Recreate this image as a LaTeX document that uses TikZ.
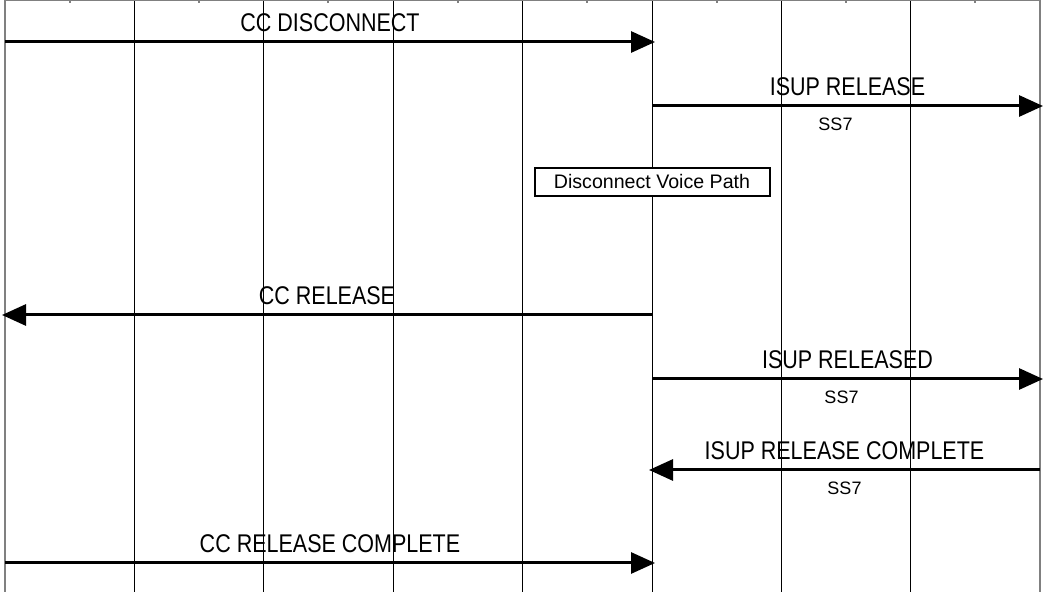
\documentclass[tikz,border=0pt]{standalone}
\usepackage{fontspec}
\setmainfont{Liberation Sans}
\newfontfamily\narrowfont{Liberation Sans}[FakeStretch=0.84]
\usetikzlibrary{arrows.meta}

\begin{document}
\begin{tikzpicture}[x=0.5pt, y=-0.5pt,
  life/.style={line width=0.45pt},
  edge/.style={line width=0.9pt, gray},
  msg/.style={line width=1.5pt, -{Triangle[length=12pt,width=10.5pt]}},
  lbl/.style={above, inner sep=4.5pt, font=\narrowfont\fontsize{12.8}{14}\selectfont},
  sub/.style={below, inner sep=5pt, font=\fontsize{9}{10}\selectfont},
  act/.style={draw, fill=white, line width=1pt, minimum width=117.5pt, minimum height=14pt,
              inner sep=0pt, font=\fontsize{9.8}{11}\selectfont}
]
  \useasboundingbox (0,0) rectangle (1046,592);

  % lifelines
  \foreach \x [count=\i] in {5,134,263,393,522,652,781,910,1040} {
    \coordinate (top\i) at (\x,0);
    \coordinate (bot\i) at (\x,592);
  }
  \draw[edge] (top1) -- (bot1);
  \draw[edge, line width=1.2pt] (top9) -- (bot9);
  \foreach \i in {2,...,8}
    \draw[life] (top\i) -- (bot\i);

  % header edge with ticks
  \draw[gray, line width=0.6pt] (top1) -- (top9);
  \foreach \x in {70,199,328,458,587,717,846,975}
    \draw[gray, line width=0.6pt] (\x,0) -- (\x,3);

  % messages
  \coordinate (dis a) at (5,42);    \coordinate (dis b) at (655,42);
  \coordinate (rel a) at (652,106); \coordinate (rel b) at (1043,106);
  \coordinate (ccr a) at (652,315); \coordinate (ccr b) at (2,315);
  \coordinate (rld a) at (652,379); \coordinate (rld b) at (1043,379);
  \coordinate (rlc a) at (1040,470); \coordinate (rlc b) at (649,470);
  \coordinate (ccc a) at (5,563);   \coordinate (ccc b) at (655,563);

  \draw[msg] (dis a) -- node[lbl] {CC DISCONNECT} (dis b);
  \draw[msg] (rel a) -- node[lbl] {ISUP RELEASE} node[sub, xshift=-6pt] {SS7} (rel b);
  \node[act] (voice) at (652,182) {Disconnect Voice Path};
  \draw[msg] (ccr a) -- node[lbl] {CC RELEASE} (ccr b);
  \draw[msg] (rld a) -- node[lbl] {ISUP RELEASED} node[sub, xshift=-3pt] {SS7} (rld b);
  \draw[msg] (rlc a) -- node[lbl] {ISUP RELEASE COMPLETE} node[sub] {SS7} (rlc b);
  \draw[msg] (ccc a) -- node[lbl] {CC RELEASE COMPLETE} (ccc b);
\end{tikzpicture}
\end{document}
